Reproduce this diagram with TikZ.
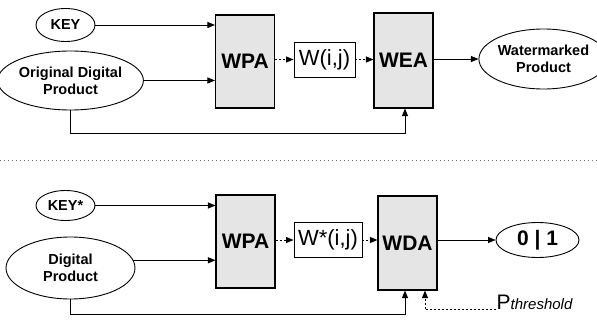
\documentclass[tikz,border=0pt]{standalone}
\usepackage{fontspec}
\setmainfont{Liberation Sans}
\usetikzlibrary{shapes.geometric,arrows.meta,calc}
\begin{document}
\begin{tikzpicture}[x=1pt,y=-1pt,
  every node/.style={inner sep=0pt},
  oval/.style={draw,ellipse,line width=0.9pt,align=center,font=\fontsize{14.5}{17}\selectfont\bfseries},
  proc/.style={draw,fill=black!10,line width=1.1pt,minimum width=59pt,font=\fontsize{21}{22}\selectfont\bfseries},
  wbox/.style={draw,line width=0.9pt,minimum height=35pt,font=\fontsize{22}{22}\selectfont},
  arr/.style={-{Triangle[length=7.5pt,width=6pt]},line width=0.9pt},
  darr/.style={arr,dash pattern=on 2pt off 2pt},
  sep/.style={dash pattern=on 1pt off 3pt,black!55,line width=1pt}]
\useasboundingbox (0,0) rectangle (597,321);
% top part
\node[oval,minimum width=59pt,minimum height=33pt] (key) at (65.5,25) {KEY};
\node[oval,minimum width=129pt,minimum height=59pt] (odp) at (70.5,80.5) {Original Digital\\Product};
\node[proc,minimum height=93pt] (wpa1) at (245,61.5) {WPA};
\node[wbox,minimum width=61pt] (wij) at (324.5,59.5) {W(i,j)};
\node[proc,minimum height=95pt] (wea) at (403.5,60.5) {WEA};
\node[oval,minimum width=107pt,minimum height=60pt] (wp) at (543.5,59) {Watermarked\\Product};
\coordinate (lp1) at (0,133);
\draw[arr] (key.east) -- (key.east -| wpa1.west);
\draw[arr] (odp.east) -- (odp.east -| wpa1.west);
\draw[darr] (wpa1.east |- wij) -- (wij.west);
\draw[darr] (wij.east) -- (wij.east -| wea.west);
\draw[arr] (wea.east |- wp) -- (wp.west);
\draw[arr] (odp.south) -- (odp.south |- lp1) -| ([xshift=1.5pt]wea.south);
% separator
\coordinate (sl) at (0,160);
\coordinate (sr) at (597,160);
\draw[sep] (sl) -- (sr);
% bottom part
\node[oval,minimum width=59pt,minimum height=30pt] (keys) at (65.5,205.5) {KEY*};
\node[oval,minimum width=129pt,minimum height=62pt] (dp) at (70.5,268) {Digital\\Product};
\node[proc,minimum height=93pt] (wpa2) at (245.5,241.5) {WPA};
\node[wbox,minimum width=68pt] (wsij) at (328,240) {W*(i,j)};
\node[proc,minimum height=94pt] (wda) at (407.5,243) {WDA};
\node[oval,minimum width=83pt,minimum height=35pt,font=\fontsize{21}{22}\selectfont\bfseries] (out) at (537.5,240) {0 | 1};
\node[anchor=base west,inner sep=0.5pt] (pth) at (496,309.5) {\fontsize{21}{22}\selectfont P\fontsize{15}{16}\selectfont\itshape threshold};
\coordinate (lp2) at (0,314);
\draw[arr] (keys.east) -- (keys.east -| wpa2.west);
\draw[arr] (dp.7) -- (dp.7 -| wpa2.west);
\draw[darr] (wpa2.east |- wsij) -- (wsij.west);
\draw[darr] (wsij.east) -- (wsij.east -| wda.west);
\draw[arr] (wda.east |- out) -- (out.west);
\draw[arr] (dp.south) -- (dp.south |- lp2) -| ([xshift=-2.5pt]wda.south);
\draw[darr] (pth.base west) -| ([xshift=17.5pt]wda.south);
\end{tikzpicture}
\end{document}
